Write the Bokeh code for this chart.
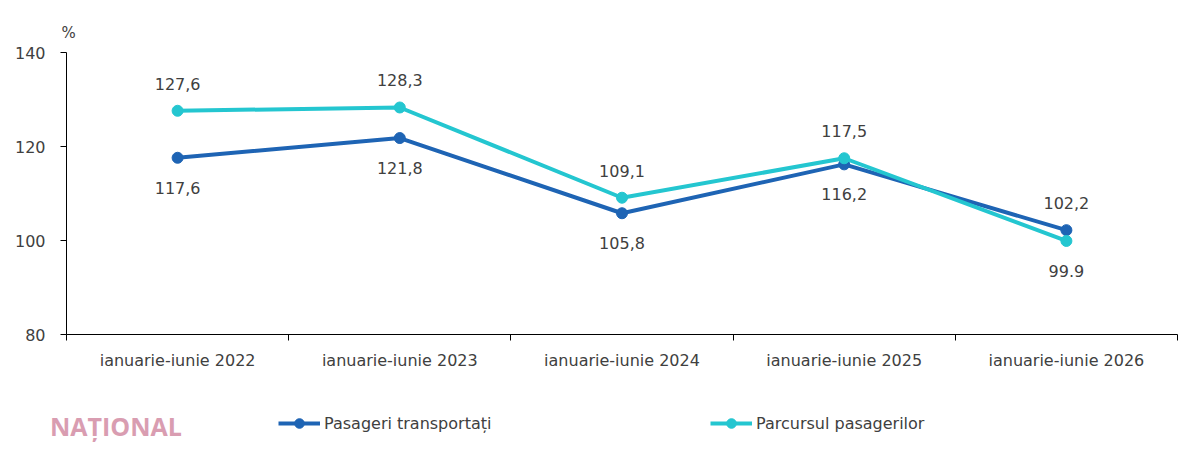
from bokeh.plotting import figure
from bokeh.layouts import column, row
from bokeh.models import (ColumnDataSource, FixedTicker, Legend, LegendItem,
                          Range1d, Div)
from bokeh.embed import file_html
from bokeh.resources import INLINE
from bokeh.core.properties import value

categories = ["ianuarie-iunie 2022", "ianuarie-iunie 2023", "ianuarie-iunie 2024",
              "ianuarie-iunie 2025", "ianuarie-iunie 2026"]
pasageri = [117.6, 121.8, 105.8, 116.2, 102.2]
pasageri_labels = ["117,6", "121,8", "105,8", "116,2", "102,2"]
pasageri_pos = ["below", "below", "below", "below", "above"]
parcurs = [127.6, 128.3, 109.1, 117.5, 99.9]
parcurs_labels = ["127,6", "128,3", "109,1", "117,5", "99.9"]
parcurs_pos = ["above", "above", "above", "above", "below"]
y_ticks = [80, 100, 120, 140]
series_names = ["Pasageri transportați", "Parcursul pasagerilor"]
watermark = "NAȚIONAL"

FONT = "DejaVu Sans"
TXT = "#404040"
C1 = "#1E64B4"
C2 = "#24C6D0"

xs = [i + 0.5 for i in range(len(categories))]

p = figure(width=1192, height=390, output_backend="svg", toolbar_location=None,
           x_range=Range1d(0, len(categories)), y_range=Range1d(80, 140),
           min_border_left=66, min_border_right=15, min_border_top=52,
           min_border_bottom=56)
p.outline_line_color = None
p.xgrid.grid_line_color = None
p.ygrid.grid_line_color = None

p.title.text = "%"
p.title.align = "left"
p.title.offset = -5
p.title.text_font = FONT
p.title.text_font_size = "15px"
p.title.text_font_style = "normal"
p.title.text_color = TXT
p.title.standoff = 22

# x axis: labels at category centres, ticks at boundaries
p.xaxis.ticker = FixedTicker(ticks=xs, minor_ticks=list(range(len(categories) + 1)))
p.xaxis.major_label_overrides = {x: c for x, c in zip(xs, categories)}
p.xaxis.major_tick_out = 0
p.xaxis.major_tick_in = 0
p.xaxis.minor_tick_out = 6
p.xaxis.minor_tick_in = 0
p.xaxis.minor_tick_line_color = "#000000"
p.xaxis.axis_line_color = "#000000"
p.xaxis.major_label_standoff = 10
p.xaxis.major_label_text_font = FONT
p.xaxis.major_label_text_font_size = "16px"
p.xaxis.major_label_text_color = TXT

p.yaxis.ticker = FixedTicker(ticks=y_ticks)
p.yaxis.minor_tick_line_color = None
p.yaxis.major_tick_out = 6
p.yaxis.major_tick_in = 0
p.yaxis.axis_line_color = "#000000"
p.yaxis.major_tick_line_color = "#000000"
p.yaxis.major_label_standoff = 15
p.yaxis.major_label_text_font = FONT
p.yaxis.major_label_text_font_size = "16px"
p.yaxis.major_label_text_color = TXT

def offs(pos):
    return [-27 if s == "above" else 30 for s in pos]

src1 = ColumnDataSource(dict(x=xs, y=pasageri, t=pasageri_labels, off=offs(pasageri_pos)))
src2 = ColumnDataSource(dict(x=xs, y=parcurs, t=parcurs_labels, off=offs(parcurs_pos)))

p.line("x", "y", source=src1, line_color=C1, line_width=4)
p.scatter("x", "y", source=src1, size=11, color=C1)
p.line("x", "y", source=src2, line_color=C2, line_width=4)
p.scatter("x", "y", source=src2, size=11, color=C2)

for src in (src1, src2):
    p.text("x", "y", text="t", source=src, y_offset="off", text_align="center",
           text_baseline="middle", text_font=value(FONT), text_font_size="16px",
           text_color=TXT)

# legend strip below the chart (series drawn off-frame only as legend proxies)
WM_W = 200
q = figure(width=1192 - WM_W, height=52, output_backend="svg", toolbar_location=None,
           x_axis_type=None, y_axis_type=None,
           x_range=Range1d(0, 1), y_range=Range1d(0, 1),
           min_border=0)
q.outline_line_color = None
q.xgrid.grid_line_color = None
q.ygrid.grid_line_color = None

ql1 = q.line("x", "y", source=src1, line_color=C1, line_width=4)
qm1 = q.scatter("x", "y", source=src1, size=11, color=C1)
ql2 = q.line("x", "y", source=src2, line_color=C2, line_width=4)
qm2 = q.scatter("x", "y", source=src2, size=11, color=C2)

legend = Legend(items=[LegendItem(label=series_names[0], renderers=[ql1, qm1]),
                       LegendItem(label=series_names[1], renderers=[ql2, qm2])],
                orientation="horizontal", location=(278 - WM_W, 7),
                glyph_width=42, glyph_height=24, label_standoff=4,
                label_width=386, spacing=0, padding=0, margin=0,
                background_fill_alpha=0, border_line_color=None,
                label_text_font=FONT, label_text_font_size="16px",
                label_text_color=TXT)
q.add_layout(legend, "center")

wm = Div(text=watermark, width=WM_W, height=52, margin=0,
         styles={"padding-left": "50px", "padding-top": "22px",
                 "font-family": "Open Sans", "font-weight": "bold",
                 "font-size": "25px", "line-height": "28px",
                 "color": "#d99db1", "white-space": "nowrap",
                 "box-sizing": "border-box"})

layout = column(p, row(wm, q, spacing=0), spacing=0)
open("out.html", "w").write(file_html(layout, INLINE))
